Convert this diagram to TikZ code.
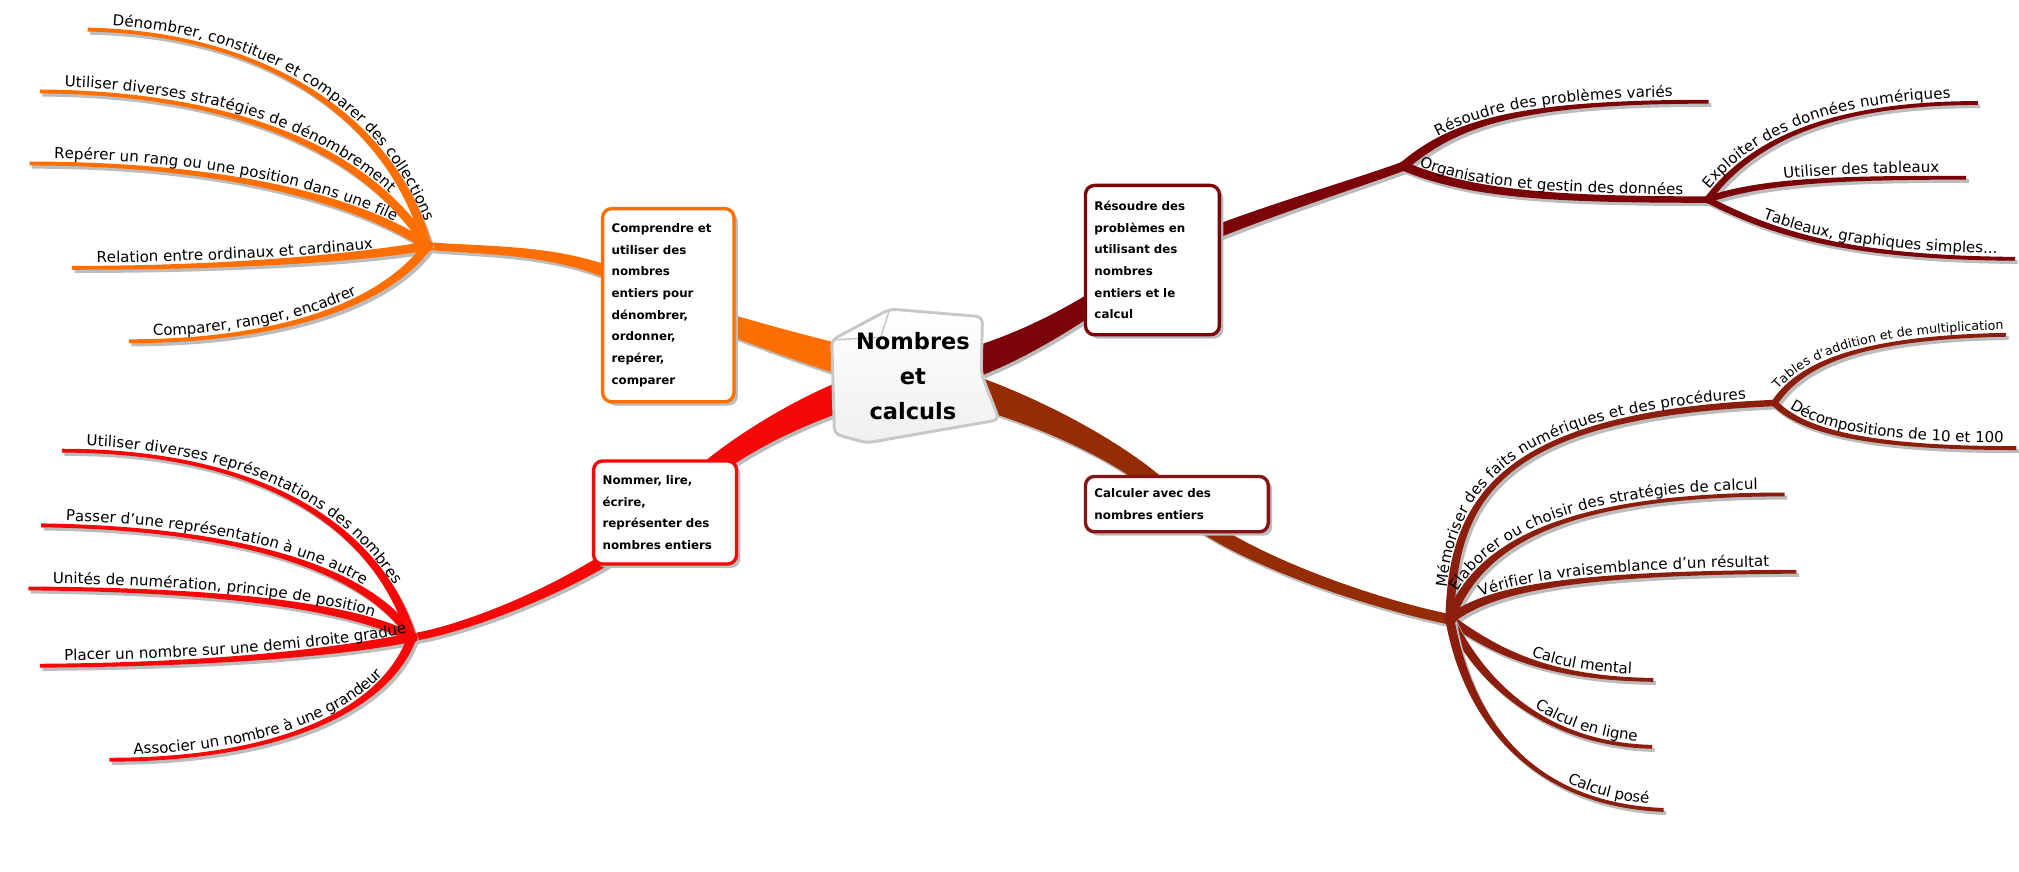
\documentclass[tikz,border=0pt]{standalone}
\usepackage{fontspec}
\setmainfont{DejaVu Sans}
\usetikzlibrary{calc,decorations.text}
\pgfdeclarelayer{bg}
\pgfsetlayers{bg,main}

\definecolor{orangeBr}{RGB}{255,110,0}
\definecolor{redBr}{RGB}{245,8,8}
\definecolor{maroonBr}{RGB}{122,4,8}
\definecolor{brownBr}{RGB}{150,44,4}
\definecolor{rustBr}{RGB}{140,30,14}
\definecolor{boxBr}{RGB}{135,20,20}
\definecolor{shadowGray}{RGB}{188,188,188}
\definecolor{paperGray}{RGB}{200,200,200}

\newcommand\twigfont{\fontsize{11.7pt}{14pt}\selectfont}
\newcommand\smalltwigfont{\fontsize{9.8pt}{12pt}\selectfont}
\newcommand\topicfont{\fontsize{9.2pt}{16.8pt}\selectfont\bfseries}
\newcommand\corefont{\fontsize{17.5pt}{27pt}\selectfont\bfseries}

% outline of a tapered curve through tw0..tw3, half widths #1 (start) and #2 (end)
\newcommand\twigoutline[2]{($(tw0)!#1!90:(tw1)$) .. controls ($(tw1)!#1!-90:(tw0)$) and ($(tw2)!#2!90:(tw3)$) .. ($(tw3)!#2!-90:(tw2)$)
  -- ($(tw3)!#2!90:(tw2)$) .. controls ($(tw2)!#2!-90:(tw3)$) and ($(tw1)!#1!90:(tw0)$) .. ($(tw0)!#1!-90:(tw1)$) -- cycle}
% #1 start, #2 first control (relative), #3 second control (relative to end), #4 end,
% #5 #6 half widths, #7 colour, #8 label style
\newcommand\twig[8]{%
  \coordinate (tw0) at (#1);%
  \coordinate (tw1) at ($(#1)+#2$);%
  \coordinate (tw2) at ($(#4)+#3$);%
  \coordinate (tw3) at (#4);%
  \fill[shadowGray, transform canvas={shift={(2pt,-2.5pt)}}] \twigoutline{#5}{#6};%
  \fill[#7] \twigoutline{#5}{#6};%
  \path[#8] (tw0) .. controls (tw1) and (tw2) .. (tw3);%
}

\tikzset{
  left twig/.style={postaction={decorate, decoration={text along path,
      text={|\twigfont|#1}, text align={left, left indent=19pt}, raise=4pt}}},
  right twig/.style 2 args={postaction={decorate, decoration={text along path,
      text={|\twigfont|#2}, text align={right, right indent=#1}, raise=4pt}}},
  small twig/.style 2 args={postaction={decorate, decoration={text along path,
      text={|\smalltwigfont|#2}, text align={right, right indent=#1}, raise=4pt}}},
  topic/.style={rectangle, rounded corners=7pt, line width=2.6pt, fill=white,
    align=left, font=\topicfont, inner xsep=7pt, inner ysep=0pt,
    preaction={fill=shadowGray, transform canvas={shift={(3pt,-3pt)}}}},
  hub/.style={circle, inner sep=0pt, minimum size=#1},
}

\begin{document}
\begin{tikzpicture}[x=1pt, y=-1pt]
\useasboundingbox (0,0) rectangle (1568,677);

% Marking the centre sheet
\draw[line width=2.3pt, draw=paperGray, top color=white, bottom color=gray!12, rounded corners=5pt]
  (646,264) -- (691,240) -- (763,246) -- (762,290) -- (776,326) -- (673,344) -- (648,337) -- cycle;%
\draw[line width=1.2pt, paperGray] (646,264) -- (684,262) -- (691,240);%
\node[font=\corefont, align=center] (nombres) at (709,292) {Nombres\\et\\calculs};%

% Marking the four topics
\node[topic, draw=orangeBr, text width=88pt, minimum height=150pt] (comprendre) at (519,237)
  {Comprendre et\\utiliser des\\nombres\\entiers pour\\dénombrer,\\ordonner,\\repérer,\\comparer};%
\node[topic, draw=redBr, text width=97pt, minimum height=80pt] (nommer) at (516.5,398)
  {Nommer, lire,\\écrire,\\représenter des\\nombres entiers};%
\node[topic, draw=maroonBr, text width=90pt, minimum height=116pt] (resoudre) at (895,202)
  {Résoudre des\\problèmes en\\utilisant des\\nombres\\entiers et le\\calcul};%
\node[topic, draw=boxBr, text width=128pt, minimum height=43pt] (calculer) at (914,391.5)
  {Calculer avec des\\nombres entiers};%

% Hubs and tips
\coordinate (hubO) at (332,191);
\coordinate (denombrer) at (68,23);
\coordinate (strategies) at (31,71);
\coordinate (reperer) at (23,127);
\coordinate (relation) at (56,208);
\coordinate (ranger) at (100,265);
\coordinate (hubR) at (320,495);
\coordinate (representations) at (48,350);
\coordinate (passer) at (32,408);
\coordinate (unites) at (22,457);
\coordinate (placer) at (31,517);
\coordinate (associer) at (85,590);
\coordinate (hubM) at (1090,129);
\coordinate (varies) at (1327,79);
\coordinate (orgHub) at (1326,155);
\coordinate (exploiter) at (1536,80);
\coordinate (tableaux) at (1527,138);
\coordinate (graphiques) at (1565,201);
\coordinate (hubC) at (1126,481);
\coordinate (memHub) at (1378,313);
\coordinate (tables) at (1558,260);
\coordinate (decompositions) at (1566,348);
\coordinate (elaborer) at (1386,384);
\coordinate (verifier) at (1395,444);
\coordinate (mental) at (1284,528);
\coordinate (enligne) at (1283,580);
\coordinate (pose) at (1292,629);

% Drawing the main branches
\begin{pgfonlayer}{bg}
\twig{nombres.center}{(-60,-10)}{(50,15)}{comprendre.center}{13pt}{7pt}{orangeBr}{}%
\twig{comprendre.center}{(-60,-45)}{(60,5)}{hubO}{5.5pt}{3pt}{orangeBr}{}%
\twig{nombres.center}{(-60,10)}{(40,-50)}{nommer.center}{13pt}{7pt}{redBr}{}%
\twig{nommer.center}{(-40,45)}{(50,-8)}{hubR}{5.5pt}{3pt}{redBr}{}%
\twig{nombres.center}{(60,-5)}{(-50,40)}{resoudre.center}{13pt}{7pt}{maroonBr}{}%
\twig{resoudre.center}{(45,-25)}{(-40,15)}{hubM}{5.5pt}{3.5pt}{maroonBr}{}%
\twig{nombres.center}{(60,10)}{(-40,-45)}{calculer.center}{13pt}{7pt}{brownBr}{}%
\twig{calculer.center}{(40,40)}{(-60,-12)}{hubC}{6pt}{4pt}{brownBr}{}%
\end{pgfonlayer}

% Drawing branch Comprendre
\twig{denombrer}{(122,2)}{(-32,-111)}{hubO}{1.5pt}{3.5pt}{orangeBr}{left twig={Dénombrer, constituer et comparer des collections}}%
\twig{strategies}{(139,1)}{(-52,-81)}{hubO}{1.5pt}{3.5pt}{orangeBr}{left twig={Utiliser diverses stratégies de dénombrement}}%
\twig{reperer}{(137,0)}{(-62,-41)}{hubO}{1.5pt}{3.5pt}{orangeBr}{left twig={Repérer un rang ou une position dans une file}}%
\twig{relation}{(124,0)}{(-52,9)}{hubO}{1.5pt}{3.5pt}{orangeBr}{left twig={Relation entre ordinaux et cardinaux}}%
\twig{ranger}{(120,0)}{(-32,44)}{hubO}{1.5pt}{3.5pt}{orangeBr}{left twig={Comparer, ranger, encadrer}}%
\node[hub=9pt, fill=orangeBr] at (hubO) {};%

% Drawing branch Nommer
\twig{representations}{(142,0)}{(-30,-95)}{hubR}{1.5pt}{3.5pt}{redBr}{left twig={Utiliser diverses représentations des nombres}}%
\twig{passer}{(148,2)}{(-35,-55)}{hubR}{1.5pt}{3.5pt}{redBr}{left twig={Passer d'une représentation à une autre}}%
\twig{unites}{(148,1)}{(-50,-25)}{hubR}{1.5pt}{3.5pt}{redBr}{left twig={Unités de numération, principe de position}}%
\twig{placer}{(149,-1)}{(-50,10)}{hubR}{1.5pt}{3.5pt}{redBr}{left twig={Placer un nombre sur une demi droite gradue}}%
\twig{associer}{(135,0)}{(-20,55)}{hubR}{1.5pt}{3.5pt}{redBr}{left twig={Associer un nombre à une grandeur}}%
\node[hub=9pt, fill=redBr] at (hubR) {};%

% Drawing branch Resoudre
\twig{hubM}{(40,-34)}{(-147,0)}{varies}{3.5pt}{1.5pt}{maroonBr}{right twig={28pt}{Résoudre des problèmes variés}}%
\twig{hubM}{(50,21)}{(-126,0)}{orgHub}{3.5pt}{2.5pt}{maroonBr}{right twig={19pt}{Organisation et gestin des données}}%
\twig{orgHub}{(34,-45)}{(-116,0)}{exploiter}{2.5pt}{1.5pt}{maroonBr}{right twig={21pt}{Exploiter des données numériques}}%
\twig{orgHub}{(44,-15)}{(-97,0)}{tableaux}{2.5pt}{1.5pt}{maroonBr}{right twig={21pt}{Utiliser des tableaux}}%
\twig{orgHub}{(49,25)}{(-135,-1)}{graphiques}{2.5pt}{1.5pt}{maroonBr}{right twig={14pt}{Tableaux, graphiques simples...}}%
\node[hub=8pt, fill=maroonBr] at (hubM) {};%
\node[hub=6pt, fill=maroonBr] at (orgHub) {};%

% Drawing branch Calculer
\twig{hubC}{(2,-91)}{(-218,9)}{memHub}{3.5pt}{2.5pt}{rustBr}{right twig={22pt}{Mémoriser des faits numériques et des procédures}}%
\twig{memHub}{(22,-33)}{(-108,2)}{tables}{2.5pt}{1.5pt}{rustBr}{small twig={2pt}{Tables d'addition et de multiplication}}%
\twig{memHub}{(22,22)}{(-116,0)}{decompositions}{2.5pt}{1.5pt}{rustBr}{right twig={10pt}{Décompositions de 10 et 100}}%
\twig{hubC}{(24,-66)}{(-156,0)}{elaborer}{3.5pt}{1.5pt}{rustBr}{right twig={21pt}{Elaborer ou choisir des stratégies de calcul}}%
\twig{hubC}{(34,-26)}{(-165,1)}{verifier}{3.5pt}{1.5pt}{rustBr}{right twig={21pt}{Vérifier la vraisemblance d'un résultat}}%
\twig{hubC}{(34,24)}{(-84,-1)}{mental}{3.5pt}{1.5pt}{rustBr}{right twig={17pt}{Calcul mental}}%
\twig{hubC}{(24,49)}{(-83,-2)}{enligne}{3.5pt}{1.5pt}{rustBr}{right twig={12pt}{Calcul en ligne}}%
\twig{hubC}{(14,79)}{(-102,-4)}{pose}{3.5pt}{1.5pt}{rustBr}{right twig={12pt}{Calcul posé}}%
\node[hub=9pt, fill=rustBr] at (hubC) {};%
\node[hub=6pt, fill=rustBr] at (memHub) {};%
\end{tikzpicture}
\end{document}
